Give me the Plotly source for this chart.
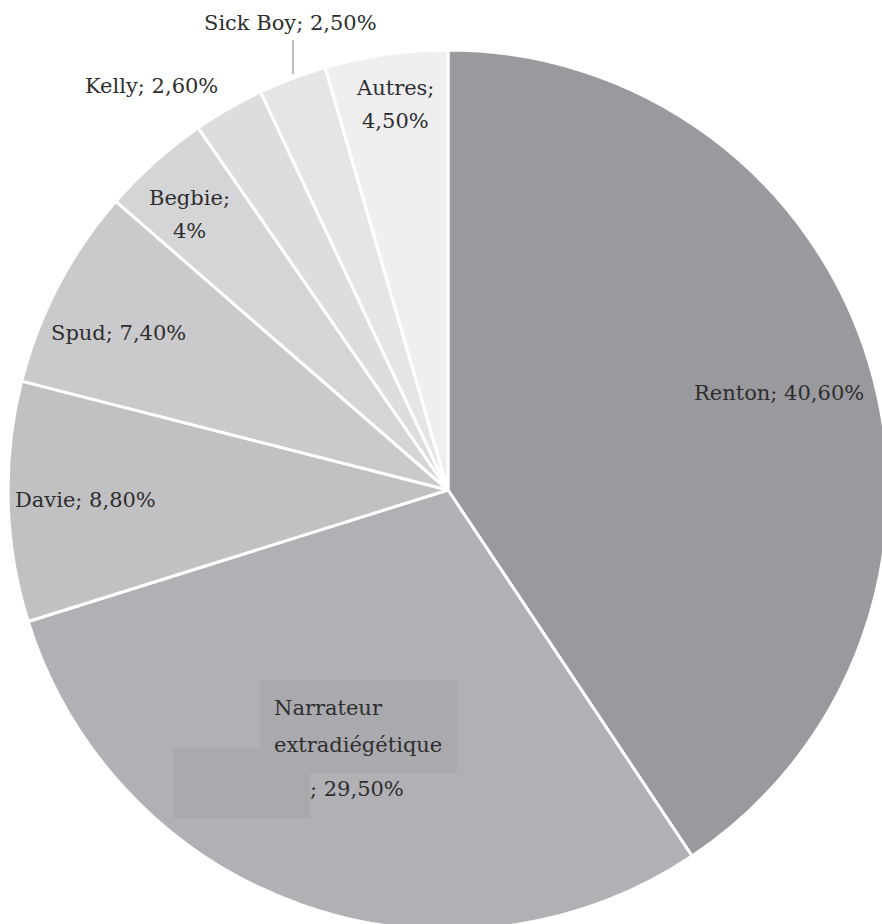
import plotly.graph_objects as go

labels = ["Renton", "Narrateur extradiégétique", "Davie", "Spud", "Begbie", "Kelly", "Sick Boy", "Autres"]
values = [40.6, 29.5, 8.8, 7.4, 4.0, 2.6, 2.5, 4.5]
value_text = ["40,60%", "29,50%", "8,80%", "7,40%", "4%", "2,60%", "2,50%", "4,50%"]
colors = ["#9a9a9e", "#b1b1b5", "#c1c1c4", "#cacacd", "#d5d5d8", "#dddde0", "#e5e5e7", "#efeff1"]

W, H = 896, 944
ML, MT, MR, MB = 8, 50, 8, 14
PW, PH = W - ML - MR, H - MT - MB

def px(x):
    return (x - ML) / PW

def py(y):
    return 1 - (y - MT) / PH

fig = go.Figure(go.Pie(
    labels=labels, values=values, sort=False, direction="clockwise", rotation=0,
    marker=dict(colors=colors, line=dict(color="white", width=3)),
    textinfo="none", hoverinfo="label+percent", showlegend=False,
))

FONT = dict(family="DejaVu Serif", size=21, color="#2e2e2e")

def ann(text, x, y, xanchor="center"):
    fig.add_annotation(text=text, x=px(x), y=py(y), xref="paper", yref="paper",
                       xanchor=xanchor, yanchor="middle", showarrow=False, font=FONT)

# grey boxes behind narrator label
for (x0, y0, x1, y1) in [(260, 680, 457, 773), (173, 748, 310, 818)]:
    fig.add_shape(type="rect", xref="paper", yref="paper", x0=px(x0), x1=px(x1), y0=py(y1), y1=py(y0),
                  fillcolor="#aaaaae", line=dict(width=0), layer="above")

ann(f"{labels[0]}; {value_text[0]}", 779, 393)
ann("Narrateur", 272, 708, "left")
ann("extradiégétique", 272, 745, "left")
ann(f"; {value_text[1]}", 308, 789, "left")
ann(f"{labels[2]}; {value_text[2]}", 13, 500, "left")
ann(f"{labels[3]}; {value_text[3]}", 49, 333, "left")
ann(f"{labels[4]};", 189, 198)
ann(value_text[4], 189, 231)
ann(f"{labels[5]}; {value_text[5]}", 151, 86)
ann(f"{labels[6]}; {value_text[6]}", 290, 23)
ann(f"{labels[7]};", 395, 88)
ann(value_text[7], 395, 121)

# leader line for Sick Boy
fig.add_shape(type="line", xref="paper", yref="paper", x0=px(293), x1=px(293), y0=py(40), y1=py(74),
              line=dict(color="#777777", width=1))

fig.update_layout(width=W, height=H, margin=dict(l=ML, r=MR, t=MT, b=MB),
                  paper_bgcolor="white", plot_bgcolor="white")

fig.write_html("out.html", config={"displayModeBar": False},
               post_script="document.body.style.margin='0';document.body.style.overflow='hidden';")
